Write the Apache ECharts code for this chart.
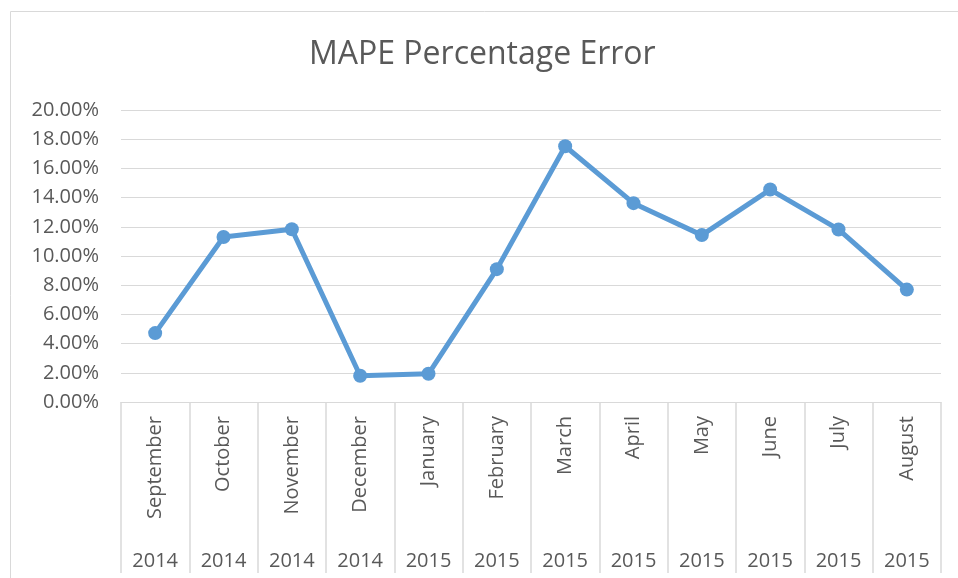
<!DOCTYPE html>
<html>
<head>
<meta charset="utf-8">
<script src="https://cdn.jsdelivr.net/npm/echarts@6/dist/echarts.min.js"></script>
<style>
  html, body { margin: 0; padding: 0; background: #fff; }
  #chart { width: 958px; height: 578px; }
</style>
</head>
<body>
<div id="chart"></div>
<script>
const months = ['September', 'October', 'November', 'December', 'January', 'February',
  'March', 'April', 'May', 'June', 'July', 'August'];
const years = ['2014', '2014', '2014', '2014', '2015', '2015',
  '2015', '2015', '2015', '2015', '2015', '2015'];
const mape = [4.72, 11.3, 11.83, 1.8, 1.93, 9.1, 17.52, 13.62, 11.43, 14.55, 11.82, 7.7];

const font = '"Open Sans", "Noto Sans", sans-serif';
const grey = '#595959';

let myChart = echarts.init(document.getElementById('chart'));
myChart.setOption({
  animation: false,
  title: {
    text: 'MAPE Percentage Error',
    left: 309,
    top: 39,
    padding: 0,
    textStyle: { fontFamily: font, fontSize: 32, fontWeight: 'normal', color: grey }
  },
  graphic: [{
    type: 'rect',
    shape: { x: 10.5, y: 11.5, width: 1000, height: 700 },
    style: { fill: null, stroke: '#d9d9d9', lineWidth: 1 },
    silent: true
  }],
  grid: { left: 121, right: 17, top: 110, bottom: 176 },
  xAxis: [
    {
      type: 'category',
      data: months,
      boundaryGap: true,
      axisLine: { lineStyle: { color: '#d9d9d9', width: 1 } },
      axisTick: { show: true, interval: 0, length: 171, lineStyle: { color: '#d9d9d9', width: 1.5 } },
      axisLabel: {
        interval: 0, rotate: 90, margin: 14,
        fontFamily: font, fontSize: 20, color: grey
      }
    },
    {
      type: 'category',
      data: years,
      position: 'bottom',
      offset: 141,
      axisLine: { show: false },
      axisTick: { show: false },
      axisLabel: { interval: 0, fontFamily: font, fontSize: 20, color: grey }
    }
  ],
  yAxis: {
    type: 'value',
    min: 0, max: 20, interval: 2,
    axisLine: { show: false },
    axisTick: { show: false },
    splitLine: { lineStyle: { color: '#d9d9d9', width: 1.2 } },
    axisLabel: {
      margin: 22,
      fontFamily: font, fontSize: 20, color: grey,
      formatter: v => v.toFixed(2) + '%'
    }
  },
  series: [{
    type: 'line',
    data: mape,
    xAxisIndex: 0,
    symbol: 'circle',
    symbolSize: 14,
    lineStyle: { color: '#5b9bd5', width: 5 },
    itemStyle: { color: '#5b9bd5' }
  }]
});
window.addEventListener('resize', () => myChart.resize());
</script>
</body>
</html>
